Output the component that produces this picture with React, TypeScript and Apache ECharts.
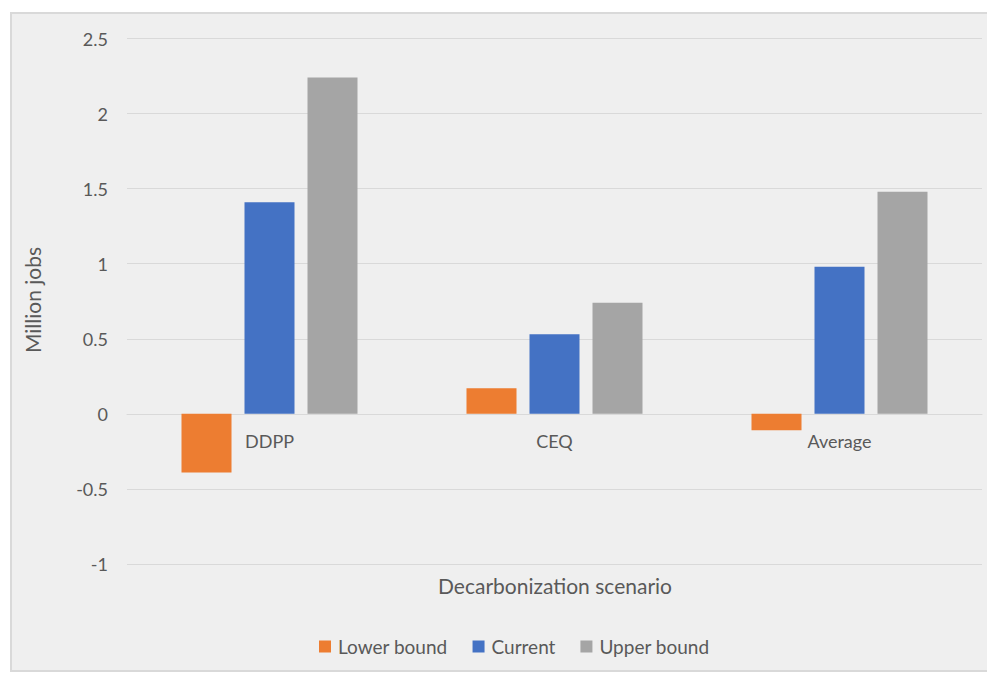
import React, { useEffect, useRef } from "react";
import * as echarts from "echarts";

// Scenarios on the category axis
const scenarios = ["DDPP", "CEQ", "Average"];

// Net job change per scenario, in millions
const lowerBound = [-0.39, 0.17, -0.11];
const current = [1.41, 0.53, 0.98];
const upperBound = [2.24, 0.74, 1.48];

const seriesNames = ["Lower bound", "Current", "Upper bound"];
const seriesColors = ["#ED7D31", "#4472C4", "#A5A5A5"];

const Y_MIN = -1;
const Y_MAX = 2.5;

const FONT = "Lato, 'Open Sans', 'Noto Sans', sans-serif";
const TEXT = "#595959";

export default function App() {
  const ref = useRef<HTMLDivElement>(null);

  useEffect(() => {
    if (!ref.current) return;
    const chart = echarts.init(ref.current, undefined, { renderer: "svg" });
    const values = [lowerBound, current, upperBound];

    const gridTop = 24.5;
    const gridHeight = 525.5;
    // category axis sits on the zero line of the value axis
    const zeroOffset = -((0 - Y_MIN) / (Y_MAX - Y_MIN)) * gridHeight;

    chart.setOption({
      animation: false,
      backgroundColor: "transparent",
      textStyle: { fontFamily: FONT, color: TEXT },
      grid: { left: 115, top: gridTop, width: 855, height: gridHeight, containLabel: false },
      legend: {
        left: 302,
        top: 618,
        icon: "rect",
        itemWidth: 12,
        itemHeight: 12,
        itemGap: 25,
        textStyle: { fontFamily: FONT, fontSize: 19, color: TEXT, padding: [0, 0, 0, 2] },
        data: seriesNames,
      },
      xAxis: {
        type: "category",
        data: scenarios,
        position: "bottom",
        offset: zeroOffset,
        axisLine: { onZero: false, lineStyle: { color: "#d9d9d9", width: 1 } },
        axisTick: { show: false },
        axisLabel: { fontSize: 18, color: TEXT, margin: 18, fontFamily: FONT },
        splitLine: { show: false },
      },
      yAxis: {
        type: "value",
        min: Y_MIN,
        max: Y_MAX,
        interval: 0.5,
        axisLine: { show: false },
        axisTick: { show: false },
        axisLabel: { fontSize: 18, color: TEXT, margin: 19, fontFamily: FONT },
        splitLine: { lineStyle: { color: "#d9d9d9", width: 1 } },
      },
      graphic: [
        {
          type: "text",
          x: 20,
          y: 286,
          rotation: Math.PI / 2,
          style: {
            text: "Million jobs",
            fontSize: 21,
            fontFamily: FONT,
            fill: TEXT,
            align: "center",
            verticalAlign: "middle",
          },
        },
        {
          type: "text",
          x: 543,
          y: 571,
          style: {
            text: "Decarbonization scenario",
            fontSize: 21,
            fontFamily: FONT,
            fill: TEXT,
            align: "center",
            verticalAlign: "middle",
          },
        },
      ],
      series: seriesNames.map((name, i) => ({
        name,
        type: "bar",
        data: values[i],
        barWidth: 50,
        barGap: "26%",
        itemStyle: { color: seriesColors[i] },
      })),
    });

    return () => chart.dispose();
  }, []);

  return (
    <div style={{ position: "relative", width: 987, height: 667 }}>
      <div
        style={{
          position: "absolute",
          left: 2,
          top: 4,
          width: 990,
          height: 660,
          boxSizing: "border-box",
          border: "2px solid #d9d9d9",
          background: "#efefef",
        }}
      >
        <div ref={ref} style={{ position: "absolute", left: 0, top: 0, width: 986, height: 656 }} />
      </div>
    </div>
  );
}
